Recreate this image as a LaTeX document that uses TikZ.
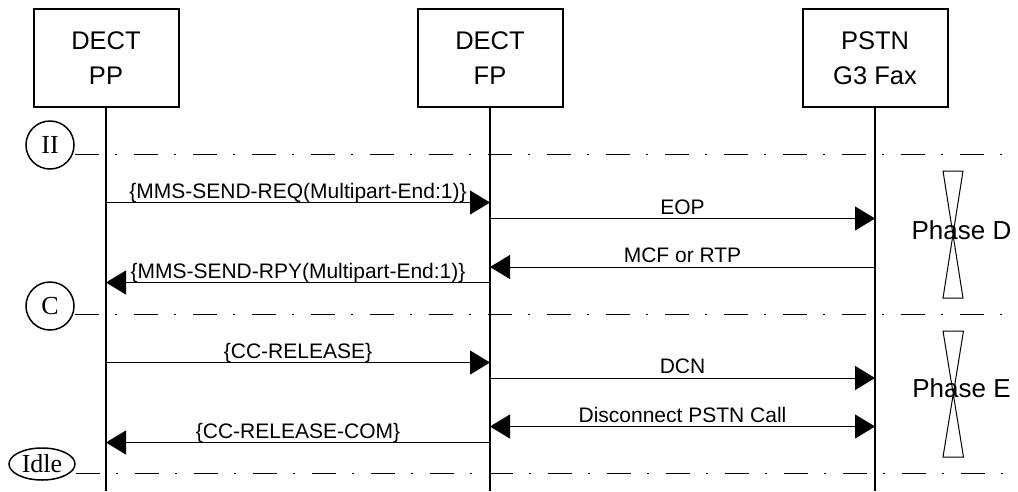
\documentclass[tikz,border=0pt]{standalone}
\usepackage{fontspec}
\setmainfont{Liberation Sans}
\newfontfamily\tmsfont{Liberation Serif}
\usetikzlibrary{arrows.meta,shapes.geometric}
\begin{document}
\begin{tikzpicture}[x=1pt,y=-1pt,
  ent/.style={draw,line width=2pt,minimum width=145pt,minimum height=98pt,inner sep=0pt,align=center,font=\fontsize{25.5}{35}\selectfont},
  life/.style={line width=2.2pt},
  msg/.style={line width=1pt,-{Triangle[length=20pt,width=24pt]}},
  bmsg/.style={line width=1pt,{Triangle[length=20pt,width=24pt]}-{Triangle[length=20pt,width=24pt]}},
  lbl/.style={font=\fontsize{21}{24}\selectfont,anchor=base,inner sep=0pt,yshift=4.5pt},
  sepline/.style={line width=1pt,dash pattern=on 24pt off 16.5pt on 2pt off 16.5pt},
  state/.style={draw,circle,line width=1.5pt,minimum size=48pt,inner sep=0pt,font=\tmsfont\fontsize{26}{26}\selectfont},
  idlestate/.style={draw,ellipse,line width=1.5pt,minimum width=66pt,minimum height=32pt,inner sep=0pt,font=\tmsfont\fontsize{26}{26}\selectfont},
  glass/.style={line width=1pt},
  phase/.style={font=\fontsize{26}{30}\selectfont,anchor=base,inner sep=0pt}
]
\useasboundingbox (0,0) rectangle (1018,491);

% entities
\node[ent] (PP) at (106,58) {DECT\\PP};
\node[ent] (FP) at (490,58) {DECT\\FP};
\node[ent] (PSTN) at (875,58) {PSTN\\G3 Fax};

\coordinate (PPend) at (106,491);
\coordinate (FPend) at (490,491);
\coordinate (PSTNend) at (875,491);
\draw[life] (PP.south) -- (PPend);
\draw[life] (FP.south) -- (FPend);
\draw[life] (PSTN.south) -- (PSTNend);

% states and separators
\node[state] (II) at (50,145) {II};
\node[state] (C) at (50,306) {C};
\node[idlestate] (Idle) at (42,464) {Idle};
\coordinate (IIr) at (1018,154);
\coordinate (Cr) at (1018,314);
\coordinate (Idler) at (1018,473);
\draw[sepline] (II.east |- IIr) -- (IIr);
\draw[sepline] (C.east |- Cr) -- (Cr);
\draw[sepline] (Idle.east |- Idler) -- (Idler);

% messages
\draw[msg] (PP |- 0,202.5) -- node[lbl] {\{MMS-SEND-REQ(Multipart-End:1)\}} (FP |- 0,202.5);
\draw[msg] (FP |- 0,218.5) -- node[lbl] {EOP} (PSTN |- 0,218.5);
\draw[msg] (PSTN |- 0,267) -- node[lbl] {MCF or RTP} (FP |- 0,267);
\draw[msg] (FP |- 0,282.5) -- node[lbl] {\{MMS-SEND-RPY(Multipart-End:1)\}} (PP |- 0,282.5);
\draw[msg] (PP |- 0,362.5) -- node[lbl] {\{CC-RELEASE\}} (FP |- 0,362.5);
\draw[msg] (FP |- 0,378) -- node[lbl] {DCN} (PSTN |- 0,378);
\draw[bmsg] (FP |- 0,426.5) -- node[lbl] {Disconnect PSTN Call} (PSTN |- 0,426.5);
\draw[msg] (FP |- 0,442.5) -- node[lbl] {\{CC-RELEASE-COM\}} (PP |- 0,442.5);

% phases
\draw[glass] (943,171) -- (963,171) -- (943,298) -- (963,298) -- cycle;
\node[phase] (phD) at (961.5,239) {Phase D};
\draw[glass] (943,331) -- (963.5,331) -- (943,457) -- (963.5,457) -- cycle;
\node[phase] (phE) at (961.5,397) {Phase E};
\end{tikzpicture}
\end{document}
